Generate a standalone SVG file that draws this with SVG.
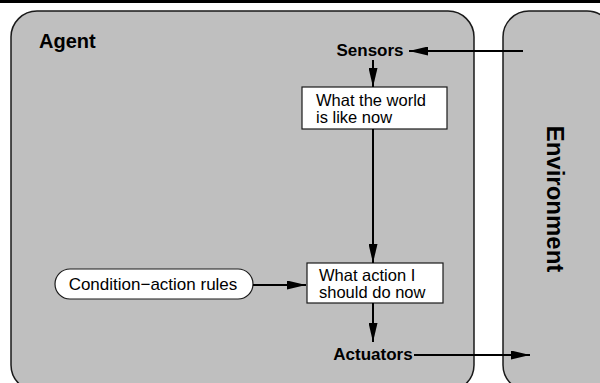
<svg xmlns="http://www.w3.org/2000/svg" width="600" height="383" viewBox="0 0 600 383">
<style>
.panel{fill:#bfbfbf;stroke:#1a1a1a;stroke-width:1.5}
.box{fill:#ffffff;stroke:#1a1a1a;stroke-width:1.2}
.t{font-family:"Liberation Sans",Arial,sans-serif;font-size:17px;fill:#000}
.bt{font-family:"Liberation Sans",Arial,sans-serif;font-size:16.5px;fill:#000}
.b{font-family:"Liberation Sans",Arial,sans-serif;font-weight:bold;fill:#000}
.c{stroke:#000;stroke-width:2;fill:none;marker-end:url(#ah)}
</style>
<defs>
<marker id="ah" viewBox="0 0 19 9" refX="19" refY="4.5" markerWidth="19" markerHeight="9" markerUnits="userSpaceOnUse" orient="auto">
<path d="M0,0 L19,4.5 L0,9 Z" fill="#000"/>
</marker>
</defs>
<rect x="0" y="0" width="600" height="3" fill="#000"/>
<g id="agent">
<rect class="panel" x="11" y="11" width="463" height="380" rx="26" ry="26"/>
<text class="b" x="39" y="48" font-size="20">Agent</text>
</g>
<g id="environment">
<rect class="panel" x="503" y="11" width="110" height="380" rx="26" ry="26"/>
<text class="b" font-size="24" transform="translate(547,199) rotate(90)" text-anchor="middle">Environment</text>
</g>
<g id="sensors">
<text class="b" x="370" y="56" font-size="17" text-anchor="middle">Sensors</text>
</g>
<g id="world">
<rect class="box" x="302" y="87" width="145" height="42"/>
<text class="bt" x="316" y="106">What the world</text>
<text class="bt" x="316" y="123">is like now</text>
</g>
<g id="action">
<rect class="box" x="307" y="263" width="136" height="40"/>
<text class="bt" x="319" y="281">What action I</text>
<text class="bt" x="319" y="298">should do now</text>
</g>
<g id="rules">
<rect class="box" x="55" y="269" width="198" height="30" rx="15" ry="15"/>
<text class="t" x="153" y="290" text-anchor="middle">Condition−action rules</text>
</g>
<g id="actuators">
<text class="b" x="373" y="360" font-size="17" text-anchor="middle">Actuators</text>
</g>
<g id="connectors">
<line class="c" x1="523" y1="51" x2="409" y2="51"/>
<line class="c" x1="373" y1="60" x2="373" y2="87"/>
<line class="c" x1="373" y1="129" x2="373" y2="263"/>
<line class="c" x1="253" y1="285" x2="306" y2="285"/>
<line class="c" x1="373" y1="303" x2="373" y2="342"/>
<line class="c" x1="414" y1="355" x2="530" y2="355"/>
</g>
</svg>
